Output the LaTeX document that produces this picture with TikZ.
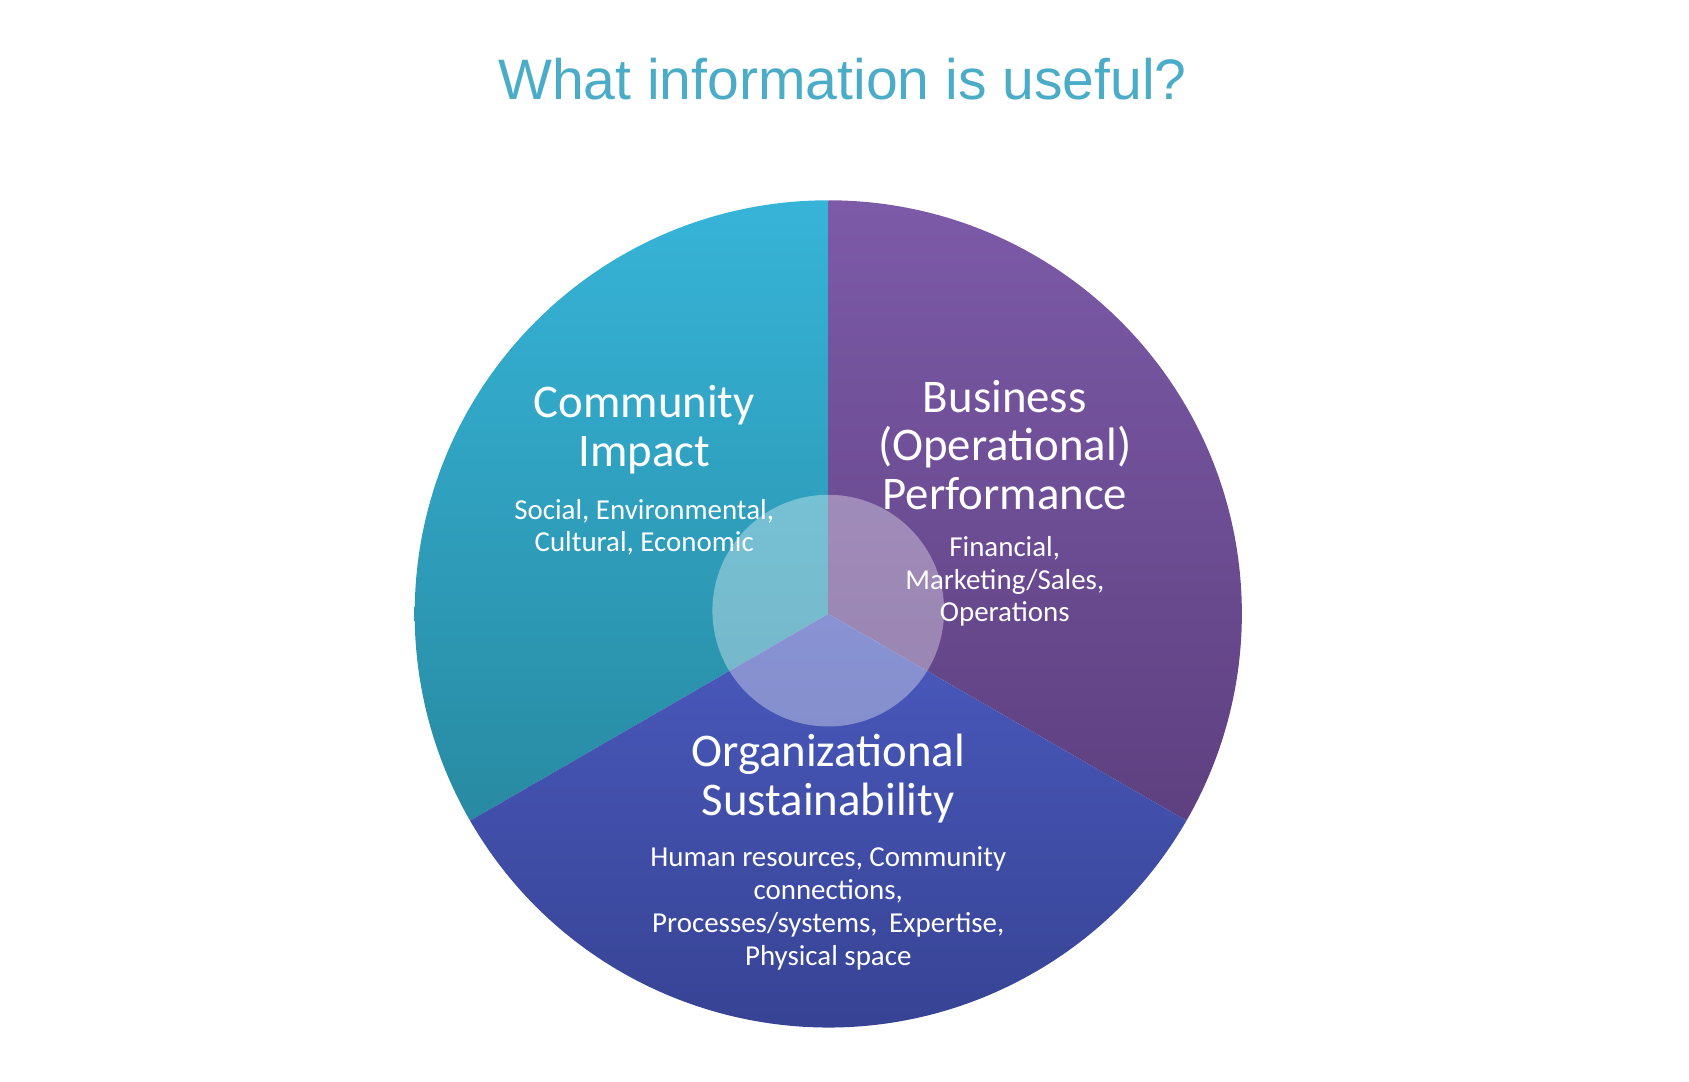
\documentclass[tikz,border=0pt]{standalone}
\usepackage{fontspec}
\setmainfont{Carlito}
\newfontfamily\titlefont{Liberation Sans}
\begin{document}
\begin{tikzpicture}
\useasboundingbox (0,0) rectangle (15.6,9.99);
\coordinate (c) at (7.65,4.32);
\def\R{3.82}
\tikzset{big/.style={text=white,font=\fontsize{12.3}{12.8}\selectfont,align=center},
small/.style={text=white,font=\fontsize{7.6}{8.6}\selectfont,align=center}}
\shade[top color={rgb,255:red,54;green,180;blue,216},bottom color={rgb,255:red,40;green,138;blue,162}]
  (c) -- ++(90:\R) arc (90:210:\R) -- cycle;
\shade[top color={rgb,255:red,124;green,90;blue,168},bottom color={rgb,255:red,94;green,64;blue,128}]
  (c) -- ++(90:\R) arc (90:-30:\R) -- cycle;
\shade[top color={rgb,255:red,74;green,90;blue,190},bottom color={rgb,255:red,52;green,64;blue,142}]
  (c) -- ++(210:\R) arc (210:330:\R) -- cycle;
\fill[white,opacity=0.35] (7.65,4.35) circle (1.07);
\node[font=\titlefont\fontsize{15}{18}\selectfont,text={rgb,255:red,75;green,172;blue,200}] (t) at (7.78,9.26) {What information is useful?};
\node[big] (ci) at (5.95,6.02) {Community\\Impact};
\node[small] (cis) at (5.95,5.12) {Social, Environmental,\\Cultural, Economic};
\node[big] (bp) at (9.28,5.88) {Business\\(Operational)\\Performance};
\node[small] (bps) at (9.28,4.62) {Financial,\\Marketing/Sales,\\Operations};
\node[big] (os) at (7.65,2.8) {Organizational\\Sustainability};
\node[small] (oss) at (7.65,1.6) {Human resources, Community\\connections,\\Processes/systems,\, Expertise,\\Physical space};
\end{tikzpicture}
\end{document}
